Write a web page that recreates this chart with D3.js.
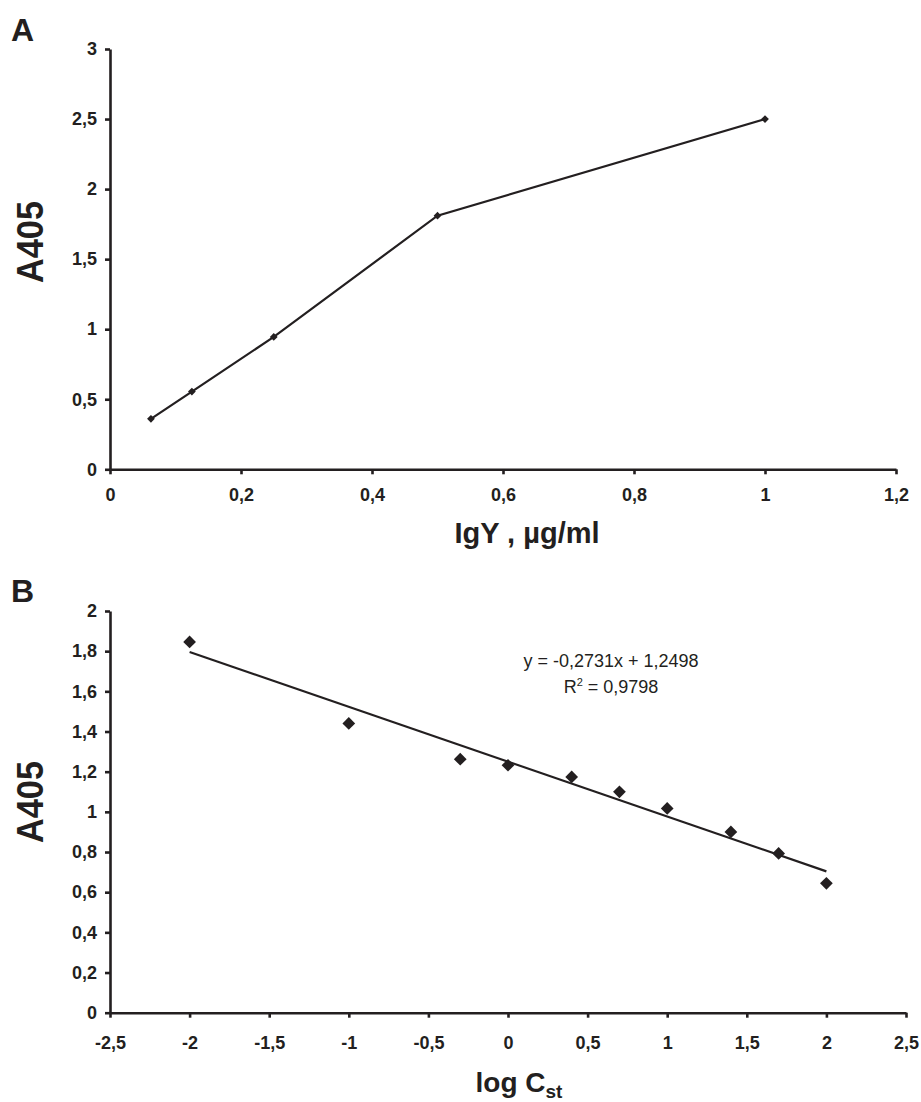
<!DOCTYPE html>
<meta charset='utf-8'>
<html>

<head>
    <script src="https://cdn.jsdelivr.net/npm/d3@7"></script>
    <style>
        body {
            padding: 0;
            margin: 0;
            background: #fff;
        }

        svg text {
            font-family: "Liberation Sans", Arial, sans-serif;
            fill: #231f20;
        }

        .tick text {
            font-size: 18px;
            font-weight: bold;
        }

        .domain,
        .tick line {
            stroke: #231f20;
            stroke-width: 2.6px;
        }
    </style>
</head>

<body>
    <svg id="chart" width="921" height="1102"></svg>

    <script>
        // panel A - IgY dilution curve
        var igY = [0.0625, 0.125, 0.25, 0.5, 1];
        var a405A = [0.36, 0.555, 0.945, 1.81, 2.5];
        var ticksAX = [0, 0.2, 0.4, 0.6, 0.8, 1, 1.2];
        var ticksAY = [0, 0.5, 1, 1.5, 2, 2.5, 3];

        // panel B - standard curve
        var logCst = [-2, -1, -0.3, 0, 0.4, 0.7, 1, 1.4, 1.7, 2];
        var a405B = [1.846, 1.44, 1.262, 1.232, 1.174, 1.10, 1.017, 0.90, 0.793, 0.644];
        var slope = -0.2731, intercept = 1.2498;
        var ticksBX = [-2.5, -2, -1.5, -1, -0.5, 0, 0.5, 1, 1.5, 2, 2.5];
        var ticksBY = [0, 0.2, 0.4, 0.6, 0.8, 1, 1.2, 1.4, 1.6, 1.8, 2];

        var ink = "#231f20";
        var loc = d3.formatLocale({ decimal: ",", thousands: ".", grouping: [3], currency: ["", ""], minus: "-" });
        var fmt = loc.format("~g");

        var svg = d3.select("#chart");

        function drawAxes(x, y, xt, yt, pad) {
            svg.append("g")
                .attr("transform", "translate(0," + y.range()[0] + ")")
                .call(d3.axisBottom(x).tickValues(xt).tickFormat(fmt).tickSize(5).tickSizeOuter(0).tickPadding(pad));
            svg.append("g")
                .attr("transform", "translate(" + x.range()[0] + ",0)")
                .call(d3.axisLeft(y).tickValues(yt).tickFormat(fmt).tickSize(5).tickSizeOuter(0).tickPadding(8));
        }

        function diamond(g, pts, side) {
            g.selectAll("path.mk")
                .data(pts)
                .enter()
                .append("path")
                .attr("class", "mk")
                .attr("d", d3.symbol().type(d3.symbolSquare).size(side * side))
                .attr("fill", ink)
                .attr("transform", function (d) {
                    return "translate(" + d[0] + "," + d[1] + ") rotate(45)";
                });
        }

        // ---- A ----
        var xA = d3.scaleLinear().domain([0, 1.2]).range([110, 896]);
        var yA = d3.scaleLinear().domain([0, 3]).range([469.3, 49]);
        drawAxes(xA, yA, ticksAX, ticksAY, 14);

        var ptsA = igY.map(function (v, i) { return [xA(v), yA(a405A[i])]; });
        svg.append("path")
            .attr("d", d3.line()(ptsA))
            .attr("fill", "none")
            .attr("stroke", ink)
            .attr("stroke-width", 2.2);
        diamond(svg.append("g"), ptsA, 5.5);

        // ---- B ----
        var xB = d3.scaleLinear().domain([-2.5, 2.5]).range([110, 906]);
        var yB = d3.scaleLinear().domain([0, 2]).range([1012.7, 611]);
        drawAxes(xB, yB, ticksBX, ticksBY, 19);

        var ext = d3.extent(logCst);
        svg.append("line")
            .attr("x1", xB(ext[0])).attr("y1", yB(slope * ext[0] + intercept))
            .attr("x2", xB(ext[1])).attr("y2", yB(slope * ext[1] + intercept))
            .attr("stroke", ink)
            .attr("stroke-width", 2.2);
        var ptsB = logCst.map(function (v, i) { return [xB(v), yB(a405B[i])]; });
        diamond(svg.append("g"), ptsB, 9);

        // equation
        svg.append("text")
            .attr("x", 611).attr("y", 667)
            .attr("text-anchor", "middle")
            .style("font-size", "18px")
            .text("y = " + fmt(slope) + "x + " + fmt(intercept));
        var r2 = svg.append("text")
            .attr("x", 611).attr("y", 693)
            .attr("text-anchor", "middle")
            .style("font-size", "18px");
        r2.append("tspan").text("R");
        r2.append("tspan").attr("dy", -7).style("font-size", "11px").text("2");
        r2.append("tspan").attr("dy", 7).text(" = 0,9798");

        // panel letters and axis titles
        svg.append("text").attr("x", 11).attr("y", 41)
            .style("font-size", "32px").style("font-weight", "bold").text("A");
        svg.append("text").attr("x", 11).attr("y", 602)
            .style("font-size", "32px").style("font-weight", "bold").text("B");

        [242, 802].forEach(function (cy) {
            svg.append("text")
                .attr("transform", "translate(43," + cy + ") rotate(-90)")
                .attr("text-anchor", "middle")
                .style("font-size", "37px").style("font-weight", "bold")
                .attr("textLength", 82).attr("lengthAdjust", "spacingAndGlyphs")
                .text("A405");
        });

        svg.append("text")
            .attr("x", 527).attr("y", 543)
            .attr("text-anchor", "middle")
            .style("font-size", "29px").style("font-weight", "bold")
            .text("IgY , µg/ml");

        var xl = svg.append("text")
            .attr("x", 519).attr("y", 1092)
            .attr("text-anchor", "middle")
            .style("font-size", "28px").style("font-weight", "bold");
        xl.append("tspan").text("log C");
        xl.append("tspan").attr("dy", 6).style("font-size", "19px").text("st");
    </script>
</body>

</html>
